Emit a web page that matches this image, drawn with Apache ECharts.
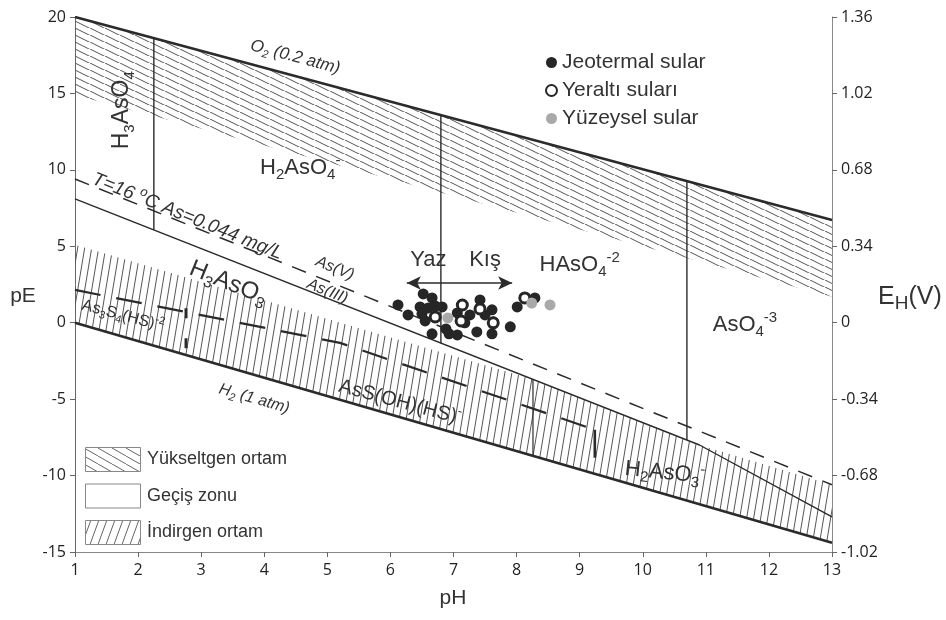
<!DOCTYPE html>
<html><head><meta charset="utf-8">
<script src="https://cdn.jsdelivr.net/npm/echarts@6/dist/echarts.min.js"></script>
<style>html,body{margin:0;padding:0;background:#fff}#c{width:946px;height:620px}</style>
</head><body><div id="c"></div>
<script>
// ---------- data ----------
const pHTicks = [1,2,3,4,5,6,7,8,9,10,11,12,13];
const pETickLabels = ['-15','-10','-5','0','5','10','15','20'];
const ehTickLabels = ['-1.02','-0.68','-0.34','0','0.34','0.68','1.02','1.36'];

const o2Line = [[1,20],[13,6.72]];
const h2Line = [[1,0],[13,-14.4]];
const asVIIILine = [[1,9.4],[13,-10.6]];
const h3aso3Boundary = [[1,8.1],[10.9,-8.0],[13,-12.7]];
const sulfideBoundary = [[1,2.15],[5.2,-1.32],[9.24,-7.0]];
const sulfideStep = [[9.24,-7.0],[9.24,-8.84]];
const sulfideTick = [[2.76,0.95],[2.76,-2.3]];
const vertical1 = [[2.25,18.62],[2.25,6.06]];
const vertical2 = [[6.8,13.58],[6.8,-1.35]];
const vertical3 = [[10.7,9.26],[10.7,-7.67]];
const vertical4 = [[8.26,-3.7],[8.26,-8.71]];
const oxidZone = [[1,20],[13,6.72],[13,1.7],[1,14.9]];
const reducZone = [[1,5.1],[8.26,-3.7],[10.9,-8.0],[13,-10.6],[13,-14.4],[1,0]];
const yazKisArrow = [[6.26,2.6],[7.93,2.6]];

const seriesNames = ['Jeotermal sular','Yeraltı suları','Yüzeysel sular'];
const jeotermal = [[6.12,1.16],[6.28,0.51],[6.52,1.88],[6.66,1.62],[6.47,1.03],[6.60,0.97],[6.71,1.10],[6.82,1.03],[6.55,0.12],[6.66,-0.73],[6.88,-0.41],[6.93,-0.73],[7.06,-0.80],[7.18,-0.01],[7.26,0.51],[7.37,-0.60],[7.42,1.49],[7.61,0.84],[7.63,0.05],[7.61,-0.73],[7.90,-0.27],[8.01,1.03],[8.29,1.62],[6.50,0.58],[7.06,0.64],[7.50,0.51]];
const yeralti = [[6.71,0.38],[7.14,1.16],[7.42,0.90],[7.12,0.12],[7.63,-0.01],[8.13,1.62]];
const yuzeysel = [[6.91,0.31],[8.24,1.29],[8.53,1.16]];

const zoneLegendNames = ['Yükseltgen ortam','Geçiş zonu','İndirgen ortam'];

// ---------- styling / layout ----------
const FONT = '"Liberation Sans", Arial, sans-serif';
const TICKFONT = '"Open Sans", "Liberation Sans", sans-serif';
const INK = '#2b2b2b';

function hatch(w, h, dir, color, lw) {
  const c = document.createElement('canvas'); c.width = w; c.height = h;
  const g = c.getContext('2d'); g.strokeStyle = color; g.lineWidth = lw;
  g.beginPath();
  for (let k = -1; k <= 1; k++) {
    if (dir === 'down') { g.moveTo(k*w, 0); g.lineTo(k*w + w, h); }
    else { g.moveTo(k*w, h); g.lineTo(k*w + w, 0); }
  }
  g.stroke();
  return {image: c, repeat: 'repeat'};
}
const oxidFill = hatch(15, 7.5, 'down', '#555', 1);
const reducFill = hatch(7, 42, 'up', '#555', 1);
const oxidLegendFill = hatch(14, 8, 'down', '#666', 1);
const reducLegendFill = hatch(8, 22, 'up', '#666', 1);

const zones = [{pts: oxidZone, fill: oxidFill}, {pts: reducZone, fill: reducFill}];

function ln(data, width, type, z) {
  return {type:'line', data, symbol:'none', silent:true, z: z || 3, animation:false,
    lineStyle:{color: INK, width, type: type || 'solid', cap:'butt'}};
}

const chart = echarts.init(document.getElementById('c'), null, {renderer:'canvas'});
const axisLbl = {fontSize:16, color:'#222', margin:9, fontFamily: TICKFONT};
const option = {
  animation: false,
  backgroundColor: '#fff',
  grid: {left: 75, right: 114, top: 17, bottom: 68, containLabel: false},
  xAxis: {type:'value', min: pHTicks[0], max: pHTicks[pHTicks.length-1], interval: 1,
    axisLine:{show:true, onZero:false, lineStyle:{color:'#888', width:1}},
    axisTick:{show:true, length:5, lineStyle:{color:'#666'}},
    axisLabel:Object.assign({}, axisLbl, {margin:10}),
    splitLine:{show:false}},
  yAxis: [
    {type:'value', min:-15, max:20, interval:5, position:'left',
      axisLine:{show:true, onZero:false, lineStyle:{color:'#666', width:1}},
      axisTick:{show:true, length:5, lineStyle:{color:'#666'}},
      axisLabel:Object.assign({}, axisLbl, {formatter:(v,i)=>pETickLabels[i]}),
      splitLine:{show:false}},
    {type:'value', min:-15, max:20, interval:5, position:'right',
      axisLine:{show:true, onZero:false, lineStyle:{color:'#888', width:1}},
      axisTick:{show:true, length:5, lineStyle:{color:'#666'}},
      axisLabel:Object.assign({}, axisLbl, {formatter:(v,i)=>ehTickLabels[i]}),
      splitLine:{show:false}}
  ],
  legend: {orient:'vertical', left:545, top:52, padding:0, itemWidth:11, itemHeight:11, itemGap:7,
    data: seriesNames, selectedMode:false,
    textStyle:{fontSize:21, color:'#333', fontFamily: FONT, lineHeight:21}},
  series: [
    {type:'custom', coordinateSystem:'cartesian2d', silent:true, z:1, animation:false,
      data: zones.map(zn => zn.pts[0]),
      renderItem: (params, api) => {
        const zn = zones[params.dataIndex];
        return {type:'polygon', shape:{points: zn.pts.map(p => api.coord(p))},
          style:{fill: zn.fill, stroke: null}};
      }},
    ln(o2Line, 2.6), ln(h2Line, 2.6),
    ln(asVIIILine, 1.5, [15,11]),
    ln(h3aso3Boundary, 1.4),
    ln(sulfideBoundary, 2.2, [26,16]),
    ln(sulfideStep, 2.6),
    ln(sulfideTick, 3, [10,20]),
    ln(vertical1, 1.4), ln(vertical2, 1.4), ln(vertical3, 1.4), ln(vertical4, 1.2),
    {type:'line', data:[], silent:true, z:4,
      markLine:{silent:true, symbol:['arrow','arrow'], symbolSize:[10,14], animation:false,
        label:{show:false}, lineStyle:{color:INK, width:1.6, type:'solid'},
        data:[[{coord: yazKisArrow[0]},{coord: yazKisArrow[1]}]]}},
    {name: seriesNames[0], type:'scatter', data: jeotermal, symbol:'circle', symbolSize:11, z:6,
      itemStyle:{color:'#262626', opacity:1}},
    {name: seriesNames[1], type:'scatter', data: yeralti, symbol:'circle', symbolSize:10, z:7,
      itemStyle:{color:'#fff', borderColor:'#262626', borderWidth:3, opacity:1}},
    {name: seriesNames[2], type:'scatter', data: yuzeysel, symbol:'circle', symbolSize:11, z:7,
      itemStyle:{color:'#a9a9a9', opacity:1}}
  ]
};
chart.setOption(option);

// ---------- annotations (placed in data coordinates) ----------
const labelSpecs = [
  {t:'O{s|2} (0.2 atm)', at:[4.49,17.38], rot:-15, size:17, italic:true},
  {t:'H{s|3}AsO{s|4}', at:[1.745,13.9], rot:90, size:23},
  {t:'H{s|2}AsO{s|4}{p|-}', at:[4.57,10.12], rot:0, size:22},
  {t:'T=16 {p|o}C As=0.044 mg/L', at:[2.78,6.95], rot:-22, size:19, italic:true},
  {t:'As(V)', at:[5.12,3.55], rot:-22, size:16, italic:true},
  {t:'As(III)', at:[5.0,2.05], rot:-22, size:16, italic:true},
  {t:'H{s|3}AsO{s|3}', at:[3.43,2.6], rot:-22, size:24},
  {t:'As{s|3}S{s|4}(HS){p|-2}', at:[1.76,0.45], rot:-15, size:16},
  {t:'AsS(OH)(HS){p|-}', at:[6.15,-5.2], rot:-15, size:20},
  {t:'H{s|2} (1 atm)', at:[3.84,-4.98], rot:-16, size:16, italic:true},
  {t:'HAsO{s|4}{p|-2}', at:[9.0,3.78], rot:0, size:22},
  {t:'AsO{s|4}{p|-3}', at:[11.62,-0.14], rot:0, size:22},
  {t:'H{s|2}AsO{s|3}{p|-}', at:[10.35,-9.82], rot:-6, size:22},
  {t:'Yaz', at:[6.6,4.1], rot:0, size:22},
  {t:'Kış', at:[7.5,4.1], rot:0, size:22}
];

function richText(spec, x, y) {
  const fs = spec.italic ? 'italic' : 'normal';
  const sub = Math.round(spec.size*0.66);
  const L = Math.round(spec.size*1.3);
  return {type:'text', x, y, rotation: spec.rot*Math.PI/180, silent:true, z:50,
    style:{text: spec.t, fontSize: spec.size, fontFamily: FONT, fontStyle: fs, fill:'#333',
      align:'center', verticalAlign:'middle', lineHeight: L,
      rich:{
        s:{fontSize: sub, lineHeight: sub, verticalAlign:'bottom', fontStyle: fs, fontFamily: FONT, fill:'#333'},
        p:{fontSize: sub, lineHeight: sub, verticalAlign:'top', fontStyle: fs, fontFamily: FONT, fill:'#333'}
      }}};
}

const graphics = labelSpecs.map(s => {
  const p = chart.convertToPixel({gridIndex:0}, s.at);
  return richText(s, p[0], p[1]);
});

// axis titles
graphics.push({type:'text', x:23, y:296, silent:true,
  style:{text:'pE', fontSize:21, fontFamily:FONT, fill:'#333', align:'center', verticalAlign:'middle'}});
graphics.push({type:'text', x:453, y:598, silent:true,
  style:{text:'pH', fontSize:21, fontFamily:FONT, fill:'#333', align:'center', verticalAlign:'middle'}});
graphics.push({type:'text', x:878, y:297, silent:true,
  style:{text:'E{s|H}(V)', fontSize:25, fontFamily:FONT, fill:'#333', align:'left', verticalAlign:'middle', lineHeight:32,
    rich:{s:{fontSize:19, lineHeight:19, verticalAlign:'bottom', fontFamily:FONT, fill:'#333'}}}});

// zone legend (bottom-left)
const zoneFills = [oxidLegendFill, '#fff', reducLegendFill];
zoneLegendNames.forEach((name, i) => {
  const top = 447 + i*36.5;
  graphics.push({type:'rect', silent:true, z:40, shape:{x:85.5, y:top+0.5, width:55, height:24},
    style:{fill: zoneFills[i], stroke:'#888', lineWidth:1}});
  graphics.push({type:'text', x:147, y:top+12.5, silent:true, z:40,
    style:{text:name, fontSize:18, fontFamily:FONT, fill:'#333', align:'left', verticalAlign:'middle'}});
});

chart.setOption({graphic: graphics});
</script>
</body></html>
